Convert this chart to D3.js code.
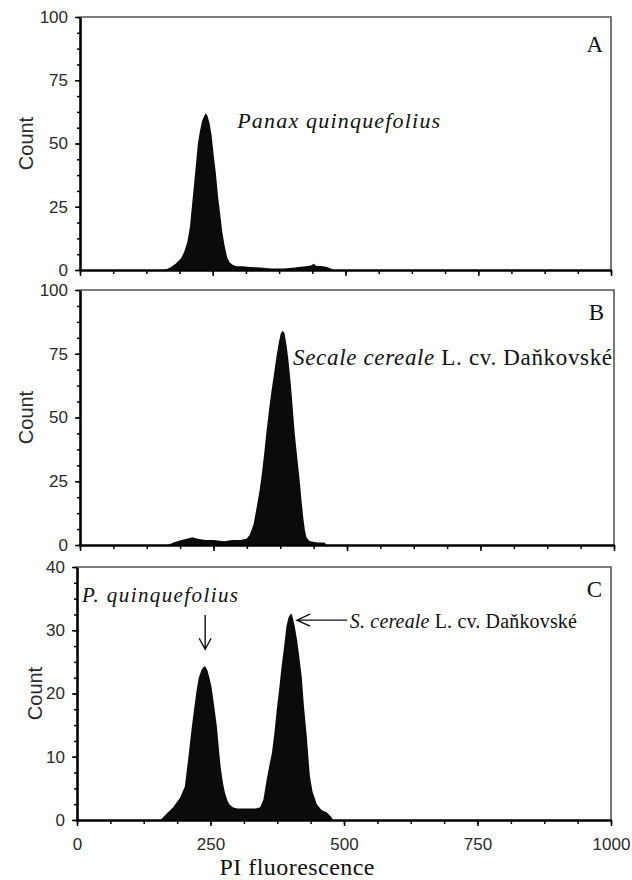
<!DOCTYPE html>
<html>
<head>
<meta charset="utf-8">
<style>
  body { margin: 0; background: #fff; }
  .serif { font-family: "Liberation Serif", "Times New Roman", serif; fill: #111; }
  .sans { font-family: "Liberation Sans", Arial, sans-serif; fill: #2a2a2a; }
</style>
</head>
<body>
<svg id="chart" width="632" height="880"></svg>
<script src="https://cdn.jsdelivr.net/npm/d3@7"></script>
<script>
// ---- data (channel, count) ----
const xTicks = [0, 250, 500, 750, 1000];
const yTicks100 = [0, 25, 50, 75, 100];
const yTicks40 = [0, 10, 20, 30, 40];

const chA  = [0, 160, 170, 180, 190, 196, 202, 207, 213, 218, 222, 226, 230, 234, 237, 240, 244, 248, 252, 256, 260, 264, 268, 272, 277, 282, 288, 295, 305, 320, 340, 360, 385, 405, 415, 425, 435, 440, 445, 455, 465, 472, 478, 1000];
const cntA = [0, 0, 1, 2.5, 4.5, 7, 11, 17, 30, 41, 50, 55, 59, 61, 62, 61, 58, 53, 45, 38, 29, 22, 15, 10, 5, 3, 2, 1.5, 1.5, 1.2, 1, 0.6, 0.6, 1, 1.3, 1.5, 1.8, 2.5, 1.6, 1.6, 1.2, 0.6, 0, 0];

const chB  = [0, 165, 175, 190, 200, 210, 220, 235, 250, 270, 285, 300, 312, 318, 325, 331, 336, 340, 345, 349, 354, 359, 364, 368, 372, 376, 380, 383, 387, 390, 393, 396, 399, 402, 406, 409, 412, 415, 418, 421, 424, 428, 431, 445, 458, 462, 1000];
const cntB = [0, 0, 1, 2, 2.5, 3, 2.5, 2, 2, 1.5, 2, 2, 2.5, 4, 8, 15, 21, 27, 36, 44, 53, 61, 68, 74, 79, 83, 84, 83, 78, 73, 67, 60, 52, 44, 36, 30, 24, 17, 11, 6, 3, 2, 1.5, 1, 1, 0, 0];

const chC  = [0, 155, 160, 170, 180, 193, 202, 208, 215, 220, 224, 228, 233, 237, 240, 244, 248, 252, 257, 262, 266, 269, 273, 277, 282, 286, 292, 300, 320, 335, 343, 349, 355, 360, 365, 370, 374, 379, 383, 388, 392, 396, 401, 404, 408, 412, 416, 421, 425, 430, 436, 441, 449, 458, 468, 475, 480, 1000];
const cntC = [0, 0, 0.3, 1.2, 2, 3.5, 5.3, 9.5, 14.7, 18, 20.5, 22.5, 23.7, 24.2, 24.3, 23.7, 22.5, 21, 18, 14.7, 11, 8.4, 6, 4.3, 3, 2.4, 2, 1.8, 1.8, 1.8, 2, 3.2, 6.3, 8.5, 10.6, 14, 17.4, 21, 24.2, 27.5, 30.5, 32, 32.7, 32, 30.5, 28.5, 26, 22.5, 18, 13.5, 7, 4.5, 2.5, 1.6, 1.2, 0.6, 0, 0];

// ---- layout ----
const panels = [
  { id: "A", ch: chA, cnt: cntA, yMax: 100, yMajor: yTicks100, yStep: 6.25, left: 80, right: 611, top: 17, bottom: 270, countX: 33, letterY: 52, letterDx: 8 },
  { id: "B", ch: chB, cnt: cntB, yMax: 100, yMajor: yTicks100, yStep: 6.25, left: 80, right: 614, top: 290, bottom: 545, countX: 33, letterY: 320, letterDx: 10 },
  { id: "C", ch: chC, cnt: cntC, yMax: 40, yMajor: yTicks40, yStep: 2.5, left: 77, right: 611, top: 567, bottom: 820, countX: 42, letterY: 597, letterDx: 9 }
];

const svg = d3.select("#chart");
const scales = {};

panels.forEach((p, i) => {
  const x = d3.scaleLinear().domain([0, 1000]).range([p.left, p.right]);
  const y = d3.scaleLinear().domain([0, p.yMax]).range([p.bottom, p.top]);
  scales[p.id] = { x, y };

  const g = svg.append("g").attr("id", "panel" + p.id);

  svg.append("clipPath").attr("id", "clip" + p.id)
    .append("rect")
    .attr("x", p.left).attr("y", p.top)
    .attr("width", p.right - p.left).attr("height", p.bottom - p.top);

  // histogram fill
  const pts = d3.zip(p.ch, p.cnt);
  const area = d3.area()
    .x(d => x(d[0]))
    .y0(y(0))
    .y1(d => y(d[1]));
  g.append("path")
    .datum(pts)
    .attr("clip-path", "url(#clip" + p.id + ")")
    .attr("fill", "#0b0b0b")
    .attr("d", area);

  // top & right frame
  g.append("path")
    .attr("d", `M${p.left},${p.top}H${p.right}V${p.bottom}`)
    .attr("fill", "none")
    .attr("stroke", "#555")
    .attr("stroke-width", 1.6);

  // y axis: minor then major
  const yMinor = d3.range(0, p.yMax + 0.001, p.yStep);
  const yMin = g.append("g")
    .attr("transform", `translate(${p.left},0)`)
    .call(d3.axisLeft(y).tickValues(yMinor).tickSize(3).tickSizeOuter(0).tickFormat(""));
  yMin.select(".domain").remove();
  yMin.selectAll(".tick line").attr("stroke-width", 1.5);
  const yAx = g.append("g")
    .attr("transform", `translate(${p.left},0)`)
    .call(d3.axisLeft(y).tickValues(p.yMajor).tickSize(5).tickSizeOuter(0).tickPadding(7));
  yAx.select(".domain").attr("stroke", "#000").attr("stroke-width", 2.6);
  yAx.selectAll(".tick line").attr("stroke-width", 1.5);
  yAx.selectAll("text").attr("class", "sans").attr("font-size", 17).attr("font-family", null).attr("fill", "#2a2a2a");

  // x axis
  const xMinor = d3.range(0, 1000.1, 62.5);
  const xMin = g.append("g")
    .attr("transform", `translate(0,${p.bottom})`)
    .call(d3.axisBottom(x).tickValues(xMinor).tickSize(4).tickSizeOuter(0).tickFormat(""));
  xMin.select(".domain").remove();
  xMin.selectAll(".tick line").attr("stroke-width", 1.5);
  const xAx = g.append("g")
    .attr("transform", `translate(0,${p.bottom})`)
    .call(d3.axisBottom(x).tickValues(xTicks).tickSize(6).tickSizeOuter(0).tickPadding(12)
      .tickFormat(i === panels.length - 1 ? d3.format("d") : ""));
  xAx.select(".domain").attr("stroke", "#000").attr("stroke-width", 2.6);
  xAx.selectAll(".tick line").attr("stroke-width", 1.5);
  xAx.selectAll("text").attr("class", "sans").attr("font-size", 17).attr("font-family", null).attr("fill", "#2a2a2a");

  // Count label
  g.append("text")
    .attr("class", "sans")
    .attr("font-size", 20)
    .attr("text-anchor", "middle")
    .attr("transform", `translate(${p.countX},${(p.top + p.bottom) / 2}) rotate(-90)`)
    .text("Count");

  // panel letter
  g.append("text")
    .attr("class", "serif")
    .attr("font-size", 23)
    .attr("text-anchor", "end")
    .attr("x", p.right - p.letterDx)
    .attr("y", p.letterY)
    .text(p.id);
});

// ---- annotations ----
const A = scales.A, B = scales.B, C = scales.C;

svg.append("text").attr("class", "serif")
  .attr("font-size", 22).attr("font-style", "italic")
  .attr("x", A.x(296)).attr("y", A.y(56.1))
  .attr("textLength", 203).attr("lengthAdjust", "spacing")
  .text("Panax quinquefolius");

const tB = svg.append("text").attr("class", "serif")
  .attr("font-size", 23)
  .attr("x", B.x(399)).attr("y", B.y(70.6))
  .attr("textLength", 319).attr("lengthAdjust", "spacing");
tB.append("tspan").attr("font-style", "italic").text("Secale cereale");
tB.append("tspan").text(" L. cv. Daňkovské");

svg.append("text").attr("class", "serif")
  .attr("font-size", 21).attr("font-style", "italic")
  .attr("x", C.x(9.4)).attr("y", C.y(34.5))
  .attr("textLength", 156).attr("lengthAdjust", "spacing")
  .text("P. quinquefolius");

const tC = svg.append("text").attr("class", "serif")
  .attr("font-size", 20)
  .attr("x", C.x(511)).attr("y", C.y(30.4))
  .attr("textLength", 227).attr("lengthAdjust", "spacing");
tC.append("tspan").attr("font-style", "italic").text("S. cereale");
tC.append("tspan").text(" L. cv. Daňkovské");

// down arrow to the P. quinquefolius peak
const ax = C.x(240), ay0 = C.y(32.4), ay1 = C.y(27);
svg.append("path")
  .attr("d", `M${ax},${ay0}V${ay1}M${ax - 6},${ay1 - 11}L${ax},${ay1}L${ax + 6},${ay1 - 11}`)
  .attr("fill", "none").attr("stroke", "#111").attr("stroke-width", 1.4);

// left arrow to the S. cereale peak
const bx0 = C.x(506), bx1 = C.x(412), by = C.y(31.6);
svg.append("path")
  .attr("d", `M${bx0},${by}H${bx1}M${bx1 + 13},${by - 6}L${bx1},${by}L${bx1 + 13},${by + 6}`)
  .attr("fill", "none").attr("stroke", "#111").attr("stroke-width", 1.4);

// x axis title
svg.append("text").attr("class", "serif")
  .attr("font-size", 24)
  .attr("text-anchor", "middle")
  .attr("x", 297).attr("y", 875)
  .attr("textLength", 155).attr("lengthAdjust", "spacing")
  .text("PI fluorescence");
</script>
</body>
</html>
